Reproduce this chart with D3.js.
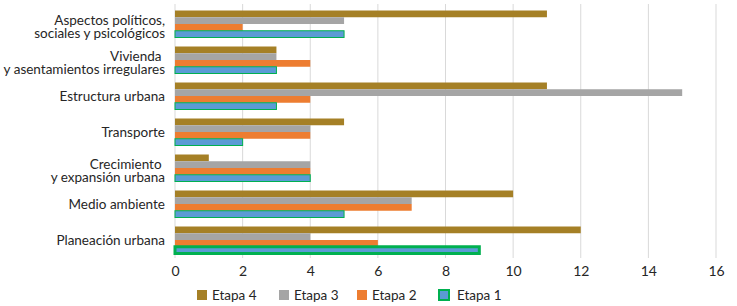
<!DOCTYPE html>
<html>
<head>
<meta charset="utf-8">
<script src="https://cdn.jsdelivr.net/npm/d3@7"></script>
<style>
  body { margin: 0; background: #fff; }
  text { font-family: Lato, "Open Sans", sans-serif; fill: #262626; }
</style>
</head>
<body>
<div id="chart"></div>
<script>
// datos del grafico
const categorias = [
  ["Aspectos políticos,", "sociales y psicológicos"],
  ["Vivienda ", "y asentamientos irregulares"],
  ["Estructura urbana"],
  ["Transporte"],
  ["Crecimiento ", "y expansión urbana"],
  ["Medio ambiente"],
  ["Planeación urbana"]
];
const etapas = ["Etapa 4", "Etapa 3", "Etapa 2", "Etapa 1"];
const etapa4 = [11, 3, 11, 5, 1, 10, 12];
const etapa3 = [5, 3, 15, 4, 4, 7, 4];
const etapa2 = [2, 4, 4, 4, 4, 7, 6];
const etapa1 = [5, 3, 3, 2, 4, 5, 9];
const ticks = [0, 2, 4, 6, 8, 10, 12, 14, 16];

const colores = ["#A58026", "#A5A5A5", "#ED7D31", "#5B9BD5"];
const series = [etapa4, etapa3, etapa2, etapa1];

const svgWidth = 737, svgHeight = 306;
const margin = { top: 6, right: 21, bottom: 48, left: 175 };
const chartWidth = svgWidth - margin.left - margin.right;
const chartHeight = svgHeight - margin.top - margin.bottom;

let svg = d3.select("#chart").append("svg")
  .attr("width", svgWidth)
  .attr("height", svgHeight);

let chartGroup = svg.append("g")
  .attr("transform", `translate(${margin.left}, ${margin.top})`);

let xScale = d3.scaleLinear().domain([0, 16]).range([0, chartWidth]);
let yScale = d3.scaleBand().domain(d3.range(categorias.length)).range([0, chartHeight]).paddingInner(0.25).paddingOuter(0.125);
let ySub = d3.scaleBand().domain(d3.range(etapas.length)).range([0, yScale.bandwidth()]);

// lineas de cuadricula
chartGroup.append("g")
  .selectAll("line")
  .data(ticks)
  .enter()
  .append("line")
  .attr("x1", d => xScale(d))
  .attr("x2", d => xScale(d))
  .attr("y1", -2)
  .attr("y2", chartHeight)
  .attr("stroke", "#d9d9d9")
  .attr("stroke-width", 1);

// eje x
let xAxis = d3.axisBottom(xScale).tickValues(ticks).tickSize(0).tickPadding(8);
let gx = chartGroup.append("g")
  .attr("transform", `translate(0, ${chartHeight})`)
  .call(xAxis);
gx.select(".domain").remove();
gx.selectAll("text").style("font-size", "14px").style("font-family", "Lato, sans-serif").attr("fill", "#404040");

// barras
series.forEach((vals, s) => {
  chartGroup.append("g")
    .selectAll("rect")
    .data(vals)
    .enter()
    .append("rect")
    .attr("x", 0)
    .attr("y", (d, i) => yScale(i) + ySub(s))
    .attr("width", d => xScale(d))
    .attr("height", ySub.bandwidth())
    .attr("fill", colores[s])
    .attr("stroke", s === 3 ? "#00B050" : "none")
    .attr("stroke-width", (d, i) => (s === 3 && i === 6) ? 3 : 1);
});

// etiquetas de categorias
let labels = chartGroup.append("g")
  .selectAll("text")
  .data(categorias)
  .enter()
  .append("text")
  .attr("text-anchor", "end")
  .attr("x", -10)
  .attr("y", (d, i) => yScale(i) + yScale.bandwidth() / 2)
  .style("font-size", "13.5px");

labels.selectAll("tspan")
  .data(d => d.map((t, j) => ({ t, j, n: d.length })))
  .enter()
  .append("tspan")
  .attr("x", -10)
  .attr("dy", d => d.j === 0 ? (d.n === 1 ? "0.35em" : "0.05em") : "1em")
  .text(d => d.t);

// leyenda
const legendX = [197, 279, 357, 439];
let legend = svg.append("g").selectAll("g")
  .data(etapas)
  .enter()
  .append("g")
  .attr("transform", (d, i) => `translate(${legendX[i]}, 290)`);

legend.append("rect")
  .attr("width", 10)
  .attr("height", 10)
  .attr("fill", (d, i) => colores[i])
  .attr("stroke", (d, i) => i === 3 ? "#00B050" : "none")
  .attr("stroke-width", 2);

legend.append("text")
  .attr("x", (d, i) => i === 3 ? 18 : 15)
  .attr("y", 10)
  .style("font-size", "13.5px")
  .attr("fill", "#404040")
  .text(d => d);
</script>
</body>
</html>
